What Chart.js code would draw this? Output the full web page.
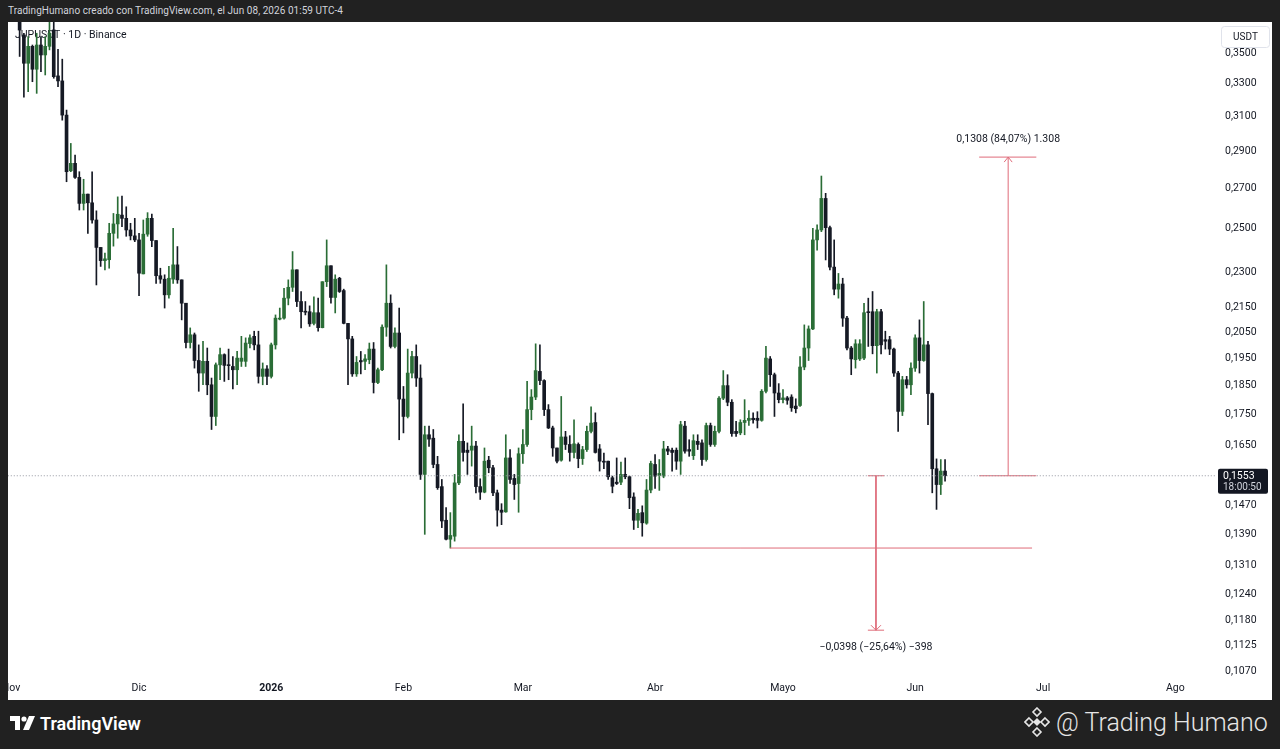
<!DOCTYPE html>
<html>
<head>
<meta charset="utf-8">
<script src="https://cdn.jsdelivr.net/npm/chart.js@4.4.1/dist/chart.umd.min.js"></script>
<style>
  html, body { margin: 0; padding: 0; background: #212121; }
  body { width: 1280px; height: 749px; position: relative; overflow: hidden; font-family: Roboto, "Noto Sans", sans-serif; }
  #header { position: absolute; left: 8px; top: 5px; color: #d1d4dc; font-size: 10px; letter-spacing: 0.05px; }
  #panel { position: absolute; left: 8px; top: 22px; width: 1264px; height: 678px; background: #ffffff; }
  #chart { position: absolute; left: 0; top: 0; }
  #tvlogo { position: absolute; left: 10px; top: 713px; height: 20px; display: flex; align-items: center; color: #ffffff; font-size: 18px; font-weight: 600; }
  #tvlogo svg { margin-right: 4px; }
  #brand { position: absolute; left: 1024px; top: 705px; height: 34px; display: flex; align-items: center; color: #e6e6e6; font-size: 25px; font-weight: 300; }
  #brand svg { margin-right: 6px; }
</style>
</head>
<body>
<div id="header">TradingHumano creado con TradingView.com, el Jun 08, 2026 01:59 UTC-4</div>
<div id="panel"><canvas id="chart" width="1264" height="678"></canvas></div>
<div id="tvlogo">
  <svg width="26" height="14" viewBox="0 0 26 14">
    <path d="M0 0 H10 V14 H5 V5 H0 Z" fill="#fff"/>
    <circle cx="14" cy="3" r="2.6" fill="#fff"/>
    <path d="M19 0 H25 L19 14 H13 Z" fill="#fff"/>
  </svg>TradingView
</div>
<div id="brand">
  <svg width="26" height="30" viewBox="0 0 26 30">
    <g fill="none" stroke="#e6e6e6" stroke-width="1.6">
      <path d="M13 1 L17 5 L13 9 L9 5 Z"/>
      <path d="M13 21 L17 25 L13 29 L9 25 Z"/>
      <path d="M4 11 L8 15 L4 19 L0 15 Z" transform="translate(1 0)"/>
      <path d="M22 11 L26 15 L22 19 L18 15 Z" transform="translate(-1 0)"/>
    </g>
    <path d="M13 11 L17 15 L13 19 L9 15 Z" fill="#e6e6e6"/>
  </svg>@ Trading Humano
</div>

<script>
// daily candles, day 0 = Nov 1 2025, first visible candle is Nov 3
const firstDay = 2;

const opens = [
  0.3720, 0.3616, 0.3425, 0.3538, 0.3386, 0.3547, 0.3480, 0.3538, 0.3651, 0.3343,
  0.3311, 0.3101, 0.2787, 0.2827, 0.2752, 0.2618, 0.2665, 0.2621, 0.2536, 0.2406,
  0.2346, 0.2350, 0.2472, 0.2517, 0.2560, 0.2544, 0.2488, 0.2460, 0.2441, 0.2287,
  0.2468, 0.2544, 0.2438, 0.2279, 0.2264, 0.2197, 0.2264, 0.2327, 0.2261, 0.2162,
  0.2005, 0.2035, 0.1937, 0.1891, 0.1934, 0.1849, 0.1740, 0.1921, 0.1959, 0.1921,
  0.1915, 0.1903, 0.1934, 0.1934, 0.2001, 0.2029, 0.1996, 0.1879, 0.1906, 0.1879,
  0.1996, 0.2097, 0.2101, 0.2183, 0.2229, 0.2305, 0.2169, 0.2127, 0.2127, 0.2080,
  0.2123, 0.2063, 0.2253, 0.2323, 0.2186, 0.2268, 0.2215, 0.2080, 0.2019, 0.1888,
  0.1937, 0.1934, 0.1940, 0.1980, 0.1857, 0.1903, 0.2065, 0.2162, 0.1990, 0.2042,
  0.1799, 0.1740, 0.1891, 0.1952, 0.1873, 0.1557, 0.1680, 0.1669, 0.1587, 0.1521,
  0.1426, 0.1375, 0.1383, 0.1532, 0.1659, 0.1631, 0.1631, 0.1644, 0.1521, 0.1505,
  0.1600, 0.1577, 0.1503, 0.1454, 0.1449, 0.1607, 0.1545, 0.1530, 0.1620, 0.1649,
  0.1763, 0.1806, 0.1897, 0.1864, 0.1763, 0.1702, 0.1638, 0.1600, 0.1673, 0.1649,
  0.1624, 0.1649, 0.1605, 0.1633, 0.1691, 0.1720, 0.1635, 0.1597, 0.1597, 0.1547,
  0.1534, 0.1534, 0.1557, 0.1550, 0.1491, 0.1426, 0.1447, 0.1418, 0.1511, 0.1587,
  0.1554, 0.1552, 0.1635, 0.1631, 0.1631, 0.1597, 0.1708, 0.1633, 0.1614, 0.1659,
  0.1654, 0.1602, 0.1710, 0.1649, 0.1691, 0.1802, 0.1846, 0.1788, 0.1691, 0.1686,
  0.1720, 0.1727, 0.1734, 0.1734, 0.1727, 0.1826, 0.1943, 0.1885, 0.1820, 0.1797,
  0.1803, 0.1806, 0.1775, 0.1777, 0.1913, 0.1984, 0.2058, 0.2441, 0.2488, 0.2643,
  0.2499, 0.2317, 0.2221, 0.2243, 0.2101, 0.1984, 0.1940, 0.1943, 0.1946, 0.2127,
  0.2127, 0.1993, 0.2127, 0.2016, 0.2016, 0.1980, 0.1891, 0.1757, 0.1867, 0.1849,
  0.1909, 0.2023, 0.1937, 0.1996, 0.1818, 0.1574, 0.1527, 0.1567
];
const highs = [
  0.3740, 0.3628, 0.3604, 0.3547, 0.3628, 0.3604, 0.3604, 0.3710, 0.3722, 0.3518,
  0.3452, 0.3131, 0.2937, 0.2872, 0.2782, 0.2742, 0.2665, 0.2782, 0.2581, 0.2406,
  0.2380, 0.2520, 0.2568, 0.2651, 0.2655, 0.2601, 0.2520, 0.2544, 0.2472, 0.2536,
  0.2572, 0.2565, 0.2438, 0.2312, 0.2283, 0.2320, 0.2496, 0.2410, 0.2261, 0.2162,
  0.2062, 0.2042, 0.1996, 0.2010, 0.1984, 0.1873, 0.1928, 0.1984, 0.1962, 0.1980,
  0.1952, 0.1971, 0.2029, 0.2023, 0.2035, 0.2049, 0.2049, 0.1928, 0.1918, 0.2003,
  0.2114, 0.2142, 0.2225, 0.2261, 0.2387, 0.2305, 0.2211, 0.2169, 0.2151, 0.2189,
  0.2183, 0.2253, 0.2441, 0.2323, 0.2283, 0.2272, 0.2221, 0.2080, 0.2029, 0.1952,
  0.1971, 0.1959, 0.2003, 0.2005, 0.1909, 0.2074, 0.2327, 0.2197, 0.2062, 0.2142,
  0.1843, 0.1980, 0.1971, 0.1996, 0.1921, 0.1708, 0.1708, 0.1697, 0.1612, 0.1542,
  0.1461, 0.1447, 0.1557, 0.1680, 0.1783, 0.1654, 0.1708, 0.1659, 0.1544, 0.1638,
  0.1612, 0.1584, 0.1511, 0.1472, 0.1680, 0.1633, 0.1557, 0.1638, 0.1697, 0.1861,
  0.1832, 0.2000, 0.1996, 0.1867, 0.1780, 0.1708, 0.1638, 0.1808, 0.1691, 0.1677,
  0.1729, 0.1654, 0.1643, 0.1708, 0.1772, 0.1752, 0.1649, 0.1622, 0.1597, 0.1552,
  0.1607, 0.1594, 0.1607, 0.1552, 0.1503, 0.1456, 0.1466, 0.1542, 0.1597, 0.1617,
  0.1602, 0.1659, 0.1643, 0.1638, 0.1638, 0.1724, 0.1724, 0.1664, 0.1680, 0.1680,
  0.1664, 0.1718, 0.1718, 0.1708, 0.1808, 0.1900, 0.1885, 0.1797, 0.1724, 0.1729,
  0.1797, 0.1760, 0.1752, 0.1756, 0.1832, 0.1990, 0.1952, 0.1891, 0.1853, 0.1832,
  0.1808, 0.1814, 0.1800, 0.1952, 0.2074, 0.2070, 0.2496, 0.2512, 0.2759, 0.2669,
  0.2506, 0.2441, 0.2289, 0.2268, 0.2108, 0.1990, 0.2016, 0.2016, 0.2162, 0.2183,
  0.2211, 0.2137, 0.2137, 0.2049, 0.2029, 0.1984, 0.1897, 0.1879, 0.1879, 0.1928,
  0.2035, 0.2094, 0.2169, 0.2010, 0.1820, 0.1604, 0.1602, 0.1602
];
const lows = [
  0.3470, 0.3209, 0.3243, 0.3306, 0.3233, 0.3371, 0.3349, 0.3514, 0.3328, 0.3275,
  0.3071, 0.2729, 0.2782, 0.2747, 0.2585, 0.2585, 0.2472, 0.2520, 0.2239, 0.2320,
  0.2305, 0.2312, 0.2412, 0.2449, 0.2504, 0.2458, 0.2441, 0.2433, 0.2193, 0.2287,
  0.2458, 0.2410, 0.2246, 0.2246, 0.2142, 0.2183, 0.2246, 0.2246, 0.2094, 0.1984,
  0.1984, 0.1909, 0.1826, 0.1849, 0.1814, 0.1697, 0.1710, 0.1867, 0.1861, 0.1867,
  0.1834, 0.1849, 0.1915, 0.1915, 0.1984, 0.1977, 0.1855, 0.1849, 0.1849, 0.1873,
  0.1980, 0.2094, 0.2097, 0.2155, 0.2211, 0.2148, 0.2062, 0.2114, 0.2068, 0.2074,
  0.2049, 0.2062, 0.2232, 0.2162, 0.2122, 0.2207, 0.2078, 0.1849, 0.1879, 0.1879,
  0.1888, 0.1903, 0.1925, 0.1820, 0.1853, 0.1900, 0.2029, 0.1984, 0.1984, 0.1664,
  0.1686, 0.1735, 0.1873, 0.1843, 0.1542, 0.1388, 0.1643, 0.1577, 0.1513, 0.1406,
  0.1373, 0.1352, 0.1370, 0.1527, 0.1597, 0.1557, 0.1582, 0.1503, 0.1484, 0.1503,
  0.1562, 0.1495, 0.1410, 0.1414, 0.1448, 0.1530, 0.1484, 0.1448, 0.1590, 0.1643,
  0.1729, 0.1797, 0.1849, 0.1743, 0.1700, 0.1612, 0.1592, 0.1597, 0.1633, 0.1597,
  0.1607, 0.1577, 0.1587, 0.1627, 0.1686, 0.1622, 0.1567, 0.1574, 0.1542, 0.1503,
  0.1527, 0.1527, 0.1544, 0.1458, 0.1401, 0.1406, 0.1383, 0.1415, 0.1503, 0.1516,
  0.1510, 0.1547, 0.1617, 0.1567, 0.1572, 0.1557, 0.1622, 0.1612, 0.1602, 0.1633,
  0.1584, 0.1597, 0.1643, 0.1643, 0.1686, 0.1797, 0.1776, 0.1675, 0.1675, 0.1680,
  0.1680, 0.1710, 0.1718, 0.1702, 0.1724, 0.1820, 0.1843, 0.1740, 0.1786, 0.1786,
  0.1781, 0.1757, 0.1752, 0.1774, 0.1903, 0.1937, 0.2055, 0.2394, 0.2480, 0.2349,
  0.2305, 0.2197, 0.2183, 0.2068, 0.1977, 0.1885, 0.1909, 0.1937, 0.1940, 0.1990,
  0.1962, 0.1891, 0.1962, 0.1980, 0.1959, 0.1879, 0.1691, 0.1743, 0.1837, 0.1814,
  0.1897, 0.1891, 0.1934, 0.1713, 0.1503, 0.1456, 0.1498, 0.1537
];
const closes = [
  0.3650, 0.3425, 0.3538, 0.3386, 0.3547, 0.3480, 0.3538, 0.3628, 0.3338, 0.3311,
  0.3101, 0.2782, 0.2827, 0.2752, 0.2618, 0.2665, 0.2621, 0.2536, 0.2406, 0.2346,
  0.2354, 0.2472, 0.2517, 0.2564, 0.2544, 0.2488, 0.2460, 0.2441, 0.2290, 0.2468,
  0.2544, 0.2438, 0.2279, 0.2264, 0.2197, 0.2268, 0.2327, 0.2261, 0.2162, 0.2005,
  0.2035, 0.1937, 0.1891, 0.1934, 0.1849, 0.1740, 0.1921, 0.1959, 0.1919, 0.1918,
  0.1903, 0.1946, 0.1946, 0.2003, 0.2023, 0.1996, 0.1879, 0.1906, 0.1879, 0.1996,
  0.2101, 0.2101, 0.2183, 0.2229, 0.2305, 0.2169, 0.2127, 0.2125, 0.2078, 0.2123,
  0.2063, 0.2253, 0.2323, 0.2186, 0.2264, 0.2211, 0.2080, 0.2019, 0.1888, 0.1930,
  0.1932, 0.1943, 0.1980, 0.1857, 0.1903, 0.2065, 0.2162, 0.1990, 0.2042, 0.1799,
  0.1740, 0.1891, 0.1952, 0.1873, 0.1557, 0.1680, 0.1666, 0.1587, 0.1518, 0.1424,
  0.1375, 0.1385, 0.1532, 0.1659, 0.1624, 0.1624, 0.1644, 0.1521, 0.1505, 0.1597,
  0.1577, 0.1503, 0.1454, 0.1448, 0.1607, 0.1542, 0.1527, 0.1620, 0.1649, 0.1763,
  0.1806, 0.1900, 0.1864, 0.1763, 0.1702, 0.1638, 0.1597, 0.1673, 0.1649, 0.1624,
  0.1651, 0.1605, 0.1633, 0.1691, 0.1718, 0.1624, 0.1597, 0.1594, 0.1550, 0.1522,
  0.1530, 0.1557, 0.1550, 0.1489, 0.1426, 0.1445, 0.1419, 0.1511, 0.1590, 0.1552,
  0.1560, 0.1635, 0.1628, 0.1624, 0.1597, 0.1713, 0.1628, 0.1628, 0.1661, 0.1649,
  0.1602, 0.1710, 0.1649, 0.1691, 0.1802, 0.1846, 0.1788, 0.1684, 0.1684, 0.1720,
  0.1727, 0.1734, 0.1729, 0.1727, 0.1826, 0.1946, 0.1885, 0.1820, 0.1797, 0.1803,
  0.1795, 0.1769, 0.1766, 0.1913, 0.1984, 0.2058, 0.2441, 0.2488, 0.2643, 0.2499,
  0.2317, 0.2221, 0.2243, 0.2101, 0.1984, 0.1943, 0.2000, 0.2000, 0.2123, 0.2123,
  0.1993, 0.2127, 0.1996, 0.2010, 0.1980, 0.1891, 0.1757, 0.1867, 0.1849, 0.1909,
  0.2023, 0.1937, 0.1996, 0.1818, 0.1574, 0.1527, 0.1567, 0.1553
];

const monthDays = [0, 30, 61, 92, 120, 151, 181, 212, 242, 273];
const monthLabels = ["Nov", "Dic", "2026", "Feb", "Mar", "Abr", "Mayo", "Jun", "Jul", "Ago"];
const priceTicks = [0.35, 0.33, 0.31, 0.29, 0.27, 0.25, 0.23, 0.215, 0.205, 0.195, 0.185,
  0.175, 0.165, 0.147, 0.139, 0.131, 0.124, 0.118, 0.1125, 0.107];

const lastPrice = 0.1553;
const supportLevel = 0.1352;
const supportFrom = 102.9, supportTo = 239.4;
const upTarget = 0.2861;      // lastPrice + 0.1308
const downTarget = 0.1155;    // lastPrice - 0.0398
const upDay = 233.8, upCapFrom = 227.0, upCapTo = 240.4;
const downDay = 202.8, downCapFrom = 200.9, downCapTo = 204.7;

const GREEN = "#2a6d36";
const DARK = "#151924";
const MEASURE = "#df6b79";
const FONT = "Roboto, 'Noto Sans', sans-serif";

const bodies = [], wicks = [], colors = [];
opens.forEach((o, i) => {
  const x = firstDay + i;
  bodies.push({ x: x, y: [o, closes[i]] });
  wicks.push({ x: x, y: [lows[i], highs[i]] });
  colors.push(closes[i] >= o ? GREEN : DARK);
});

function seg(x1, y1, x2, y2, color, dash) {
  return {
    type: "line",
    data: [{ x: x1, y: y1 }, { x: x2, y: y2 }],
    borderColor: color,
    borderWidth: 1,
    borderDash: dash || [],
    pointRadius: 0,
    order: -1
  };
}

function fmt(v) {
  return v.toFixed(4).replace(".", ",");
}

const overlay = {
  id: "overlay",
  beforeDatasetsDraw(chart) {
    const ctx = chart.ctx;
    ctx.save();
    ctx.font = "10.5px " + FONT;
    ctx.fillStyle = "#131722";
    ctx.textBaseline = "middle";
    ctx.fillText("JUPUSDT · 1D · Binance", 7, 13);
    ctx.restore();
  },
  afterDraw(chart) {
    const ctx = chart.ctx;
    const xs = chart.scales.x, ys = chart.scales.y;
    const area = chart.chartArea;
    ctx.save();

    // arrow heads
    ctx.strokeStyle = MEASURE;
    ctx.lineWidth = 1;
    let px = xs.getPixelForValue(upDay), py = ys.getPixelForValue(upTarget);
    ctx.beginPath();
    ctx.moveTo(px - 4, py + 5); ctx.lineTo(px, py); ctx.lineTo(px + 4, py + 5);
    ctx.stroke();
    let qx = xs.getPixelForValue(downDay), qy = ys.getPixelForValue(downTarget);
    ctx.beginPath();
    ctx.moveTo(qx - 5, qy - 5); ctx.lineTo(qx, qy); ctx.lineTo(qx + 5, qy - 5);
    ctx.stroke();

    // measure labels
    ctx.font = "10.5px " + FONT;
    ctx.fillStyle = "#131722";
    ctx.textAlign = "center";
    ctx.textBaseline = "middle";
    ctx.fillText("0,1308 (84,07%) 1.308", px, py - 18);
    ctx.fillText("\u22120,0398 (\u221225,64%) \u2212398", qx, qy + 17);

    // price axis labels
    ctx.textAlign = "left";
    priceTicks.forEach(v => {
      ctx.fillText(fmt(v), area.right + 10, ys.getPixelForValue(v) + 1);
    });

    // time axis labels
    ctx.textAlign = "center";
    monthDays.forEach((d, i) => {
      ctx.font = (monthLabels[i] === "2026" ? "bold " : "") + "10.5px " + FONT;
      ctx.fillText(monthLabels[i], xs.getPixelForValue(d), area.bottom + 10);
    });

    // last price tag
    const ly = ys.getPixelForValue(lastPrice);
    ctx.fillStyle = "#131722";
    ctx.beginPath();
    ctx.roundRect(area.right + 3, ly - 7, 50, 25, 2);
    ctx.fill();
    ctx.fillStyle = "#ffffff";
    ctx.textAlign = "left";
    ctx.font = "10.5px " + FONT;
    ctx.fillText(fmt(lastPrice), area.right + 8, ly + 0.5);
    ctx.fillStyle = "#d1d4dc";
    ctx.font = "10px " + FONT;
    ctx.fillText("18:00:50", area.right + 8, ly + 11.5);

    // currency box
    ctx.fillStyle = "#ffffff";
    ctx.strokeStyle = "#e0e3eb";
    ctx.beginPath();
    ctx.roundRect(area.right + 6.5, 4.5, 48, 21, 3);
    ctx.fill();
    ctx.stroke();
    ctx.fillStyle = "#131722";
    ctx.textAlign = "center";
    ctx.font = "10px " + FONT;
    ctx.fillText("USDT", area.right + 30.5, 15);
    ctx.restore();
  }
};

new Chart(document.getElementById("chart"), {
  type: "bar",
  data: {
    datasets: [
      {
        data: bodies,
        backgroundColor: colors,
        barThickness: 3,
        minBarLength: 1,
        grouped: false,
        order: 0
      },
      {
        data: wicks,
        backgroundColor: colors,
        barThickness: 1,
        grouped: false,
        order: 1
      },
      seg(-5, lastPrice, 290, lastPrice, "#9598a1", [1, 2]),
      seg(supportFrom, supportLevel, supportTo, supportLevel, MEASURE),
      seg(upDay, lastPrice, upDay, upTarget, MEASURE),
      seg(upCapFrom, upTarget, upCapTo, upTarget, MEASURE),
      seg(upCapFrom, lastPrice, upCapTo, lastPrice, MEASURE),
      seg(downDay, lastPrice, downDay, downTarget, MEASURE),
      seg(downCapFrom, downTarget, downCapTo, downTarget, MEASURE),
      seg(downCapFrom, lastPrice, downCapTo, lastPrice, MEASURE)
    ]
  },
  options: {
    responsive: false,
    animation: false,
    devicePixelRatio: 1,
    events: [],
    layout: { padding: { left: 0, right: 57, top: 0, bottom: 22 } },
    plugins: { legend: { display: false }, tooltip: { enabled: false } },
    scales: {
      x: { type: "linear", min: -0.727, max: 282.3, offset: false, display: false },
      y: { type: "logarithmic", min: 0.10538, max: 0.3707, display: false }
    }
  },
  plugins: [overlay]
});
</script>
</body>
</html>
